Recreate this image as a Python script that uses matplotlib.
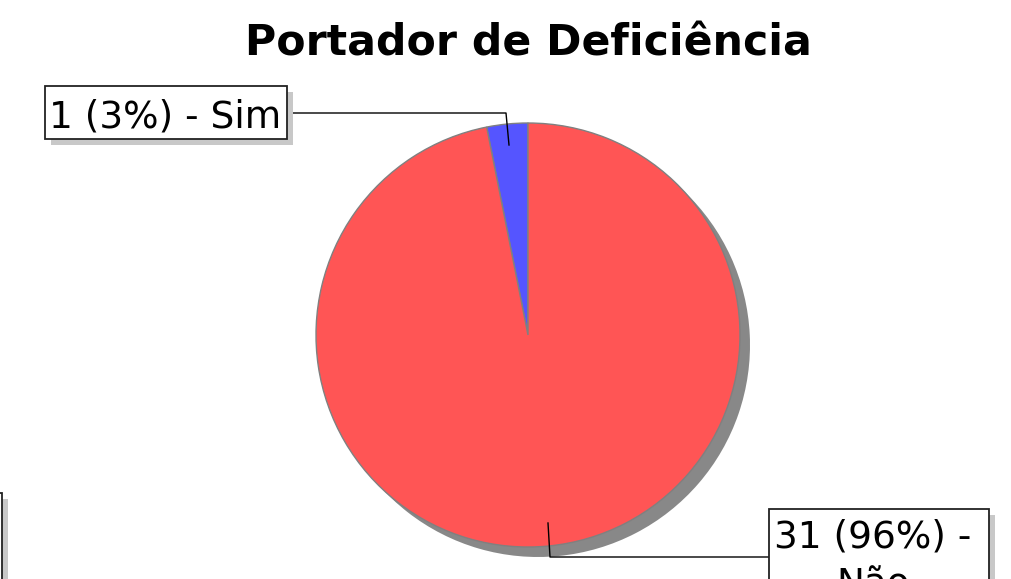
import matplotlib
matplotlib.use("Agg")
import matplotlib.pyplot as plt
from matplotlib.patches import Rectangle

# Data
categories = ["Sim", "Não"]
counts = [1, 31]
colors = ["#5555FF", "#FF5555"]
title = "Portador de Deficiência"

W, H = 1011, 579
fig = plt.figure(figsize=(W / 100, H / 100), dpi=100)
ax = fig.add_axes([0, 0, 1, 1])

def Y(py):
    return H - py

cx, cy, r = 528, Y(335), 212
total = sum(counts)

# shadow pie
ax.pie(counts, colors=["#888888"] * len(counts), startangle=90, counterclock=True,
       center=(cx + 10, cy - 10), radius=r, wedgeprops=dict(linewidth=0))
# main pie
ax.pie(counts, colors=colors, startangle=90, counterclock=True,
       center=(cx, cy), radius=r, wedgeprops=dict(edgecolor="#808080", linewidth=1.0))

ax.set_xlim(0, W)
ax.set_ylim(0, H)
ax.set_aspect("equal")
ax.axis("off")

def labtxt(i):
    pct = int(100 * counts[i] / total)
    return f"{counts[i]} ({pct}%) - {categories[i]}"

fs = 26.9

def box(x0, y0, x1, y1):
    ax.add_patch(Rectangle((x0 + 6, Y(y1) - 6), x1 - x0, y1 - y0, facecolor="#C8C8C8",
                           edgecolor="none", zorder=5))
    ax.add_patch(Rectangle((x0, Y(y1)), x1 - x0, y1 - y0, facecolor="white",
                           edgecolor="#222222", linewidth=1.3, zorder=6))

# label for Sim
box(45, 86, 287, 139)
ax.text(165, Y(127), labtxt(0), fontsize=fs, ha="center", va="baseline", zorder=7)
ax.plot([287, 506, 509], [Y(113), Y(113), Y(145)], color="black", lw=1, zorder=4)

# label for Não
box(769, 509, 989, 640)
t = labtxt(1)
parts = t.rsplit(" ", 1)
ax.text(873, Y(548), parts[0], fontsize=fs, ha="center", va="baseline", zorder=7)
ax.text(873, Y(596), parts[1], fontsize=fs, ha="center", va="baseline", zorder=7)
ax.plot([548, 550, 769], [Y(523), Y(557), Y(557)], color="black", lw=1, zorder=4)

# legend box clipped at left edge
box(-200, 493, 2, 700)

fig.text(528 / W, 1 - 56 / H, title, fontsize=30.7, fontweight="bold",
         ha="center", va="baseline")

fig.savefig("out.png", dpi=100)
